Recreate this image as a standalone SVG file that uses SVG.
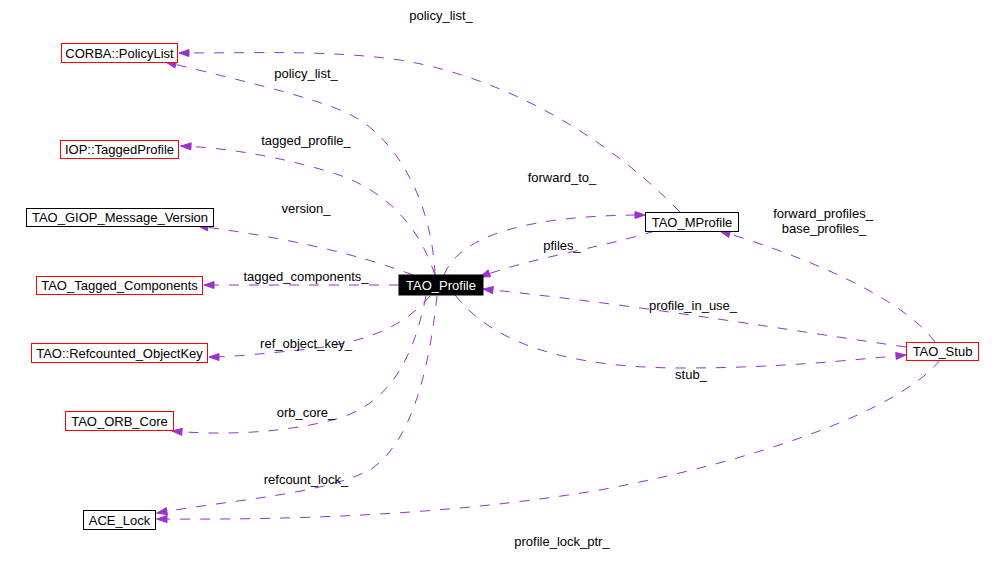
<svg xmlns="http://www.w3.org/2000/svg" width="1004" height="577" viewBox="0 0 1004 577">
<style>
text{font-family:"Liberation Sans",Arial,sans-serif;font-size:13px;fill:#000}
.n rect{fill:#fff;stroke:#000;stroke-width:1}
.n.red rect{stroke:#ff0000}
.n text{text-anchor:middle}
.e path{fill:none;stroke:#9a32cd;stroke-width:1;stroke-dasharray:10,10;marker-end:url(#ah)}
.lbl text{text-anchor:middle}
</style>
<defs>
<marker id="ah" markerUnits="userSpaceOnUse" markerWidth="12" markerHeight="9" refX="11" refY="4" orient="auto">
<path d="M1,0.5 L11,4 L1,7.5 z" fill="#9a32cd" stroke="#9a32cd" stroke-width="1"/>
</marker>
</defs>
<rect width="1004" height="577" fill="#fff"/>
<g id="connectors" class="e">
<path d="M435,275 C432,200 395,135 347,113 C310,96 230,78 166,62"/>
<path d="M680,212 C620,150 520,80 400,60 C330,50 260,53 179,53"/>
<path d="M435,275 C420,230 390,190 330,172 C280,157 230,148 181,146"/>
<path d="M413,275 C360,255 290,238 198,226"/>
<path d="M399,285 L204,285"/>
<path d="M430,296 C405,325 370,343 300,350 C260,354 230,357 209,357"/>
<path d="M426,296 C415,350 395,400 340,418 C290,432 230,436 172,431"/>
<path d="M437,296 C430,360 415,440 370,470 C320,495 230,500 157,513"/>
<path d="M940,360 C900,410 760,460 600,490 C450,515 300,520 157,519"/>
<path d="M906,347 C800,332 640,305 483,289"/>
<path d="M455,295 C490,340 560,368 683,368 C780,368 850,360 906,355"/>
<path d="M444,275 C460,235 530,215 645,215"/>
<path d="M655,231 C600,248 530,258 480,277"/>
<path d="M935,342 C900,295 800,255 720,231"/>
</g>
<g id="labels" class="lbl">
<text x="441" y="20">policy_list_</text>
<text x="306" y="78">policy_list_</text>
<text x="306" y="145">tagged_profile_</text>
<text x="306" y="213">version_</text>
<text x="306" y="281">tagged_components_</text>
<text x="306" y="348">ref_object_key_</text>
<text x="306" y="417">orb_core_</text>
<text x="306" y="484">refcount_lock_</text>
<text x="562" y="546">profile_lock_ptr_</text>
<text x="562" y="182">forward_to_</text>
<text x="562" y="250">pfiles_</text>
<text x="693" y="310">profile_in_use_</text>
<text x="691" y="379">stub_</text>
<text x="823" y="218">forward_profiles_</text>
<text x="824" y="233">base_profiles_</text>
</g>
<g id="node-policylist" class="n red"><rect x="61.5" y="43.5" width="116" height="19"/><text x="119.5" y="57.5">CORBA::PolicyList</text></g>
<g id="node-taggedprofile" class="n red"><rect x="60.5" y="140.5" width="118" height="18"/><text x="119.5" y="154">IOP::TaggedProfile</text></g>
<g id="node-giop" class="n"><rect x="26.5" y="208.5" width="187" height="18"/><text x="120" y="222">TAO_GIOP_Message_Version</text></g>
<g id="node-taggedcomponents" class="n red"><rect x="36.5" y="276.5" width="166" height="18"/><text x="119.5" y="290">TAO_Tagged_Components</text></g>
<g id="node-objectkey" class="n red"><rect x="31.5" y="343.5" width="176" height="19"/><text x="119.5" y="358">TAO::Refcounted_ObjectKey</text></g>
<g id="node-orbcore" class="n red"><rect x="65.5" y="411.5" width="108" height="19"/><text x="119.5" y="426">TAO_ORB_Core</text></g>
<g id="node-acelock" class="n"><rect x="83.5" y="510.5" width="72" height="19"/><text x="119.5" y="525">ACE_Lock</text></g>
<g id="node-profile" class="n"><rect x="399" y="275" width="84" height="20" style="fill:#000;stroke:#000"/><text x="441" y="290" style="fill:#fff">TAO_Profile</text></g>
<g id="node-mprofile" class="n"><rect x="645.5" y="212.5" width="93" height="19"/><text x="692" y="226.5">TAO_MProfile</text></g>
<g id="node-stub" class="n red"><rect x="906.5" y="342.5" width="72" height="18"/><text x="942.5" y="356">TAO_Stub</text></g>
</svg>
